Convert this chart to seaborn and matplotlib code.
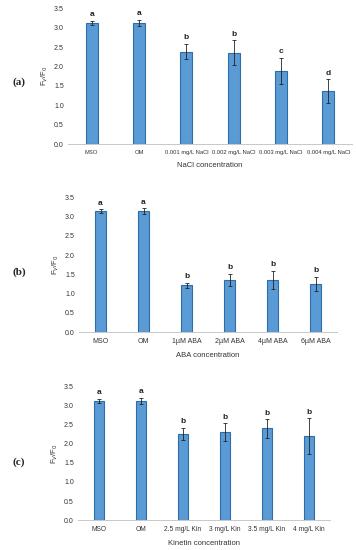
import numpy as np
import pandas as pd
import matplotlib
matplotlib.use("Agg")
import matplotlib.pyplot as plt
import seaborn as sns

# Panel (a): NaCl
nacl_labels = ["MSO", "OM", "0.001 mg/L NaCl", "0.002 mg/L NaCl", "0.003 mg/L NaCl", "0.004 mg/L NaCl"]
nacl_vals = [3.13, 3.13, 2.38, 2.35, 1.89, 1.36]
nacl_err = [0.05, 0.08, 0.20, 0.32, 0.34, 0.31]
nacl_letters = ["a", "a", "b", "b", "c", "d"]

# Panel (b): ABA
aba_labels = ["MSO", "OM", "1\u00b5M ABA", "2\u00b5M ABA", "4\u00b5M ABA", "6\u00b5M ABA"]
aba_vals = [3.14, 3.14, 1.22, 1.36, 1.36, 1.26]
aba_err = [0.05, 0.08, 0.07, 0.15, 0.23, 0.18]
aba_letters = ["a", "a", "b", "b", "b", "b"]

# Panel (c): Kinetin
kin_labels = ["MSO", "OM", "2.5 mg/L Kin", "3 mg/L Kin", "3.5 mg/L Kin", "4 mg/L Kin"]
kin_vals = [3.14, 3.14, 2.26, 2.31, 2.41, 2.20]
kin_err = [0.05, 0.08, 0.16, 0.23, 0.24, 0.47]
kin_letters = ["a", "a", "b", "b", "b", "b"]

sns.set_style("white")
plt.rcParams["font.family"] = ["Liberation Sans Narrow", "Liberation Sans", "DejaVu Sans"]

fig = plt.figure(figsize=(3.56, 5.5), dpi=100)

panels = [
    ("(a)", nacl_labels, nacl_vals, nacl_err, nacl_letters, "NaCl concentration", [0.191, 0.738, 0.798, 0.247], 82, 4.2),
    ("(b)", aba_labels, aba_vals, aba_err, aba_letters, "ABA concentration", [0.222, 0.396, 0.725, 0.245], 272, 5),
    ("(c)", kin_labels, kin_vals, kin_err, kin_letters, "Kinetin concentration", [0.219, 0.0545, 0.708, 0.242], 462, 4.8),
]

for tag, labels, vals, err, letters, xlabel, rect, tag_y, xfs in panels:
    ax = fig.add_axes(rect)
    df = pd.DataFrame({"group": labels, "value": vals})
    sns.barplot(data=df, x="group", y="value", color="#5B9BD5", edgecolor="#2F6DA8",
                linewidth=0.8, width=0.25, saturation=1, ax=ax)
    x = np.arange(len(labels))
    ax.errorbar(x, vals, yerr=err, fmt="none", ecolor="#222222", elinewidth=0.6,
                capsize=1.2, capthick=0.6)
    for xi, v, e, l in zip(x, vals, err, letters):
        ax.text(xi, v + e + 0.07, l, ha="center", va="bottom", fontsize=6,
                fontweight="bold", color="#222222")
    ax.set_ylim(0, 3.5)
    ax.set_yticks(np.arange(0, 3.51, 0.5))
    ax.set_yticklabels([f"{t:.1f}" for t in np.arange(0, 3.51, 0.5)])
    ax.set_xlim(-0.5, len(labels) - 0.5)
    for s in ["top", "right", "left"]:
        ax.spines[s].set_visible(False)
    ax.spines["bottom"].set_color("#C8C8C8")
    ax.spines["bottom"].set_linewidth(0.7)
    ax.tick_params(axis="y", length=0, labelsize=5, colors="#333333", pad=3)
    ax.tick_params(axis="x", length=0, labelsize=xfs, colors="#333333", pad=4)
    ax.set_xlabel(xlabel, fontsize=5.5, color="#333333", labelpad=5)
    ax.set_ylabel(r"F$_V$/F$_0$", fontsize=5.5, color="#333333", labelpad=3)
    fig.text(0.035, 1 - tag_y / 550, tag, fontsize=8, fontweight="bold",
             family=["Liberation Serif", "DejaVu Serif"], va="center", ha="left")

fig.savefig("out.png", dpi=100)
